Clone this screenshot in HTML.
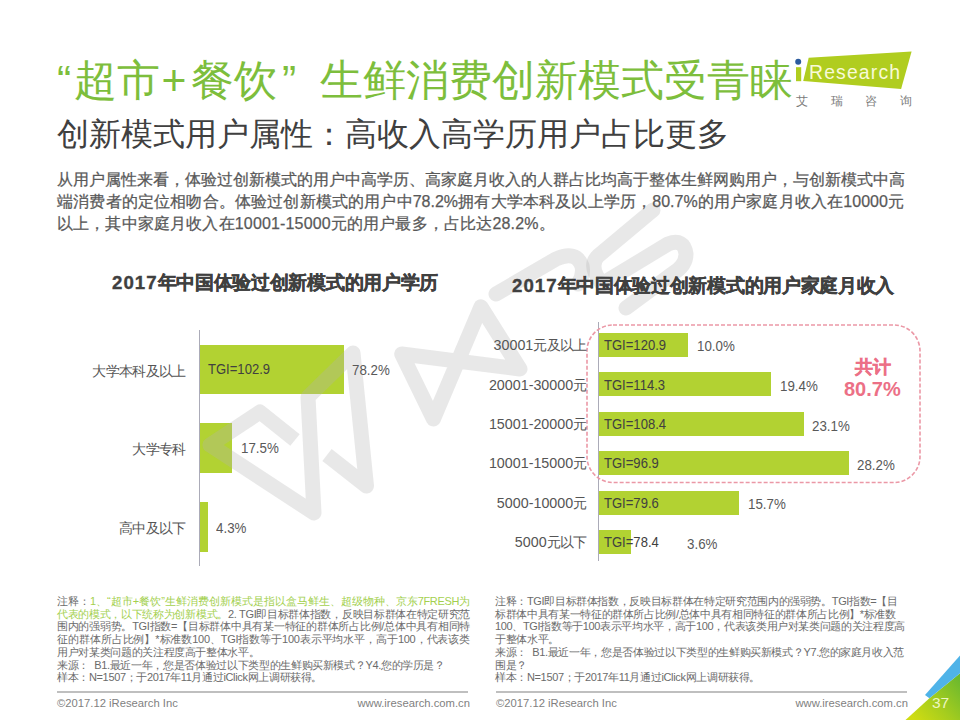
<!DOCTYPE html>
<html><head><meta charset="utf-8">
<style>
html,body{margin:0;padding:0;}
body{width:960px;height:720px;position:relative;overflow:hidden;background:#fff;font-family:"Liberation Sans",sans-serif;color:#595959;}
.a{position:absolute;white-space:nowrap;z-index:2;}
.t1{top:52px;font-size:42.67px;line-height:56px;color:#7dbe3c;}
#sub{left:57px;top:114px;font-size:32px;line-height:40px;color:#404040;}
.para{left:57px;width:847px;font-size:16px;line-height:22px;margin-top:1.5px;color:#595959;-webkit-text-stroke:0.25px #595959;text-align:justify;text-align-last:justify;}
.ct{font-size:18.67px;font-weight:bold;color:#404040;line-height:26px;letter-spacing:-0.3px;-webkit-text-stroke:0.35px #404040;}
.d{letter-spacing:1.0px;}
.dg{font-size:14.3px;letter-spacing:0;}
.bar{position:absolute;background:#b2d232;}
.axis{position:absolute;background:#ababb8;width:1px;}
.lab{position:absolute;z-index:2;font-size:14px;letter-spacing:-0.7px;line-height:16px;color:#555;text-align:right;white-space:nowrap;}
.tgi{position:absolute;z-index:2;font-size:14.5px;line-height:16px;color:#404040;transform:scaleX(0.9);transform-origin:0 0;white-space:nowrap;}
.pct{position:absolute;z-index:2;font-size:14.5px;line-height:16px;color:#595959;transform:scaleX(0.92);transform-origin:0 0;white-space:nowrap;}
.note{font-size:11px;letter-spacing:-0.35px;line-height:12.6px;color:#6b6b6b;}
.j{width:413px;text-align:justify;text-align-last:justify;}
.g{color:#a3d04e;}
.foot{font-size:11.25px;line-height:14px;color:#7f7f7f;}
.sep{position:absolute;height:2px;background:#bfbfbf;top:691px;}
</style></head><body>

<div class="a t1" style="left:57px">“</div><div class="a t1" style="left:74px">超市</div><div class="a t1" style="left:161.5px">+</div><div class="a t1" style="left:190.5px">餐饮</div><div class="a t1" style="left:282px">”</div><div class="a t1" style="left:320px;font-size:42.6px">生鲜消费创新模式受青睐</div>
<div class="a" id="sub">创新模式用户属性：高收入高学历用户占比更多</div>

<div class="a para" style="top:167px">从用户属性来看，体验过创新模式的用户中高学历、高家庭月收入的人群占比均高于整体生鲜网购用户，与创新模式中高</div>
<div class="a para" style="top:189px">端消费者的定位相吻合。体验过创新模式的用户中78.2%拥有大学本科及以上学历，80.7%的用户家庭月收入在10000元</div>
<div class="a para" style="top:211px;text-align-last:left;letter-spacing:0.16px">以上，其中家庭月收入在10001-15000元的用户最多，占比达28.2%。</div>

<div class="a ct" style="left:112px;top:270px"><span class="d">2017</span>年中国体验过创新模式的用户学历</div>
<div class="a ct" style="left:512px;top:273px"><span class="d">2017</span>年中国体验过创新模式的用户家庭月收入</div>

<!-- left chart -->
<div class="axis" style="left:199px;top:330px;height:236px"></div>
<div class="bar" style="left:200px;top:345px;width:144px;height:49px"></div>
<div class="bar" style="left:200px;top:423px;width:32px;height:50px"></div>
<div class="bar" style="left:200px;top:502px;width:8px;height:50px"></div>
<div class="lab" style="right:774.5px;top:362.5px">大学本科及以上</div>
<div class="lab" style="right:774.5px;top:440.5px">大学专科</div>
<div class="lab" style="right:774.5px;top:519.5px">高中及以下</div>
<div class="tgi" style="left:208px;top:361px">TGI=102.9</div>
<div class="pct" style="left:352px;top:362px">78.2%</div>
<div class="pct" style="left:241px;top:440px">17.5%</div>
<div class="pct" style="left:216px;top:520px">4.3%</div>

<!-- right chart -->
<div class="axis" style="left:598px;top:322px;height:239px"></div>
<div class="bar" style="left:599px;top:333px;width:89px;height:24px"></div>
<div class="bar" style="left:599px;top:372px;width:172px;height:24px"></div>
<div class="bar" style="left:599px;top:412px;width:205px;height:24px"></div>
<div class="bar" style="left:599px;top:451px;width:250px;height:24px"></div>
<div class="bar" style="left:599px;top:491px;width:140px;height:24px"></div>
<div class="bar" style="left:599px;top:530px;width:32px;height:24px"></div>
<div class="lab" style="right:373.5px;top:337px"><span class="dg">30001</span>元及以上</div>
<div class="lab" style="right:373.5px;top:377px"><span class="dg">20001-30000</span>元</div>
<div class="lab" style="right:373.5px;top:416px"><span class="dg">15001-20000</span>元</div>
<div class="lab" style="right:373.5px;top:455px"><span class="dg">10001-15000</span>元</div>
<div class="lab" style="right:373.5px;top:495px"><span class="dg">5000-10000</span>元</div>
<div class="lab" style="right:373.5px;top:534px"><span class="dg">5000</span>元以下</div>
<div class="tgi" style="left:604px;top:337px">TGI=120.9</div>
<div class="tgi" style="left:604px;top:377px">TGI=114.3</div>
<div class="tgi" style="left:604px;top:416px">TGI=108.4</div>
<div class="tgi" style="left:604px;top:455px">TGI=96.9</div>
<div class="tgi" style="left:604px;top:495px">TGI=79.6</div>
<div class="tgi" style="left:604px;top:534px">TGI=78.4</div>
<div class="pct" style="left:697px;top:338px">10.0%</div>
<div class="pct" style="left:780px;top:378px">19.4%</div>
<div class="pct" style="left:812px;top:418px">23.1%</div>
<div class="pct" style="left:857px;top:457px">28.2%</div>
<div class="pct" style="left:748px;top:496px">15.7%</div>
<div class="pct" style="left:687px;top:536px">3.6%</div>
<svg style="position:absolute;left:0;top:0" width="960" height="720"><rect x="587" y="325" width="333" height="157.5" rx="26" ry="26" fill="none" stroke="#eb98a6" stroke-width="1.6" stroke-dasharray="4 2"/></svg>
<div class="a" style="left:855px;top:355.5px;font-size:18px;line-height:22px;font-weight:bold;color:#ec7086;-webkit-text-stroke:0.4px #ec7086">共计</div>
<div class="a" style="left:844px;top:377px;font-size:20px;line-height:24px;font-weight:bold;color:#ec7086">80.7%</div>

<!-- notes -->
<div class="a note j" style="left:57px;top:595px">注释：<span class="g">1、“超市+餐饮”生鲜消费创新模式是指以盒马鲜生、超级物种、京东7FRESH为</span></div>
<div class="a note j" style="left:57px;top:607.7px"><span class="g">代表的模式，以下统称为创新模式。</span>2. TGI即目标群体指数，反映目标群体在特定研究范</div>
<div class="a note j" style="left:57px;top:620.4px">围内的强弱势。TGI指数=【目标群体中具有某一特征的群体所占比例/总体中具有相同特</div>
<div class="a note j" style="left:57px;top:633.1px">征的群体所占比例】*标准数100、TGI指数等于100表示平均水平，高于100，代表该类</div>
<div class="a note" style="left:57px;top:645.8px">用户对某类问题的关注程度高于整体水平。</div>
<div class="a note" style="left:57px;top:658.5px">来源：&nbsp;&nbsp;B1.最近一年，您是否体验过以下类型的生鲜购买新模式？Y4.您的学历是？</div>
<div class="a note" style="left:57px;top:671.2px">样本：N=1507；于2017年11月通过iClick网上调研获得。</div>
<div class="a note" style="left:495px;top:595px">注释：TGI即目标群体指数，反映目标群体在特定研究范围内的强弱势。TGI指数=【目</div>
<div class="a note" style="left:495px;top:607.7px">标群体中具有某一特征的群体所占比例/总体中具有相同特征的群体所占比例】*标准数</div>
<div class="a note" style="left:495px;top:620.4px">100、TGI指数等于100表示平均水平，高于100，代表该类用户对某类问题的关注程度高</div>
<div class="a note" style="left:495px;top:633.1px">于整体水平。</div>
<div class="a note" style="left:495px;top:645.8px">来源：&nbsp;&nbsp;B1.最近一年，您是否体验过以下类型的生鲜购买新模式？Y7.您的家庭月收入范</div>
<div class="a note" style="left:495px;top:658.5px">围是？</div>
<div class="a note" style="left:495px;top:671.2px">样本：N=1507；于2017年11月通过iClick网上调研获得。</div>

<div class="sep" style="left:57px;width:411px"></div>
<div class="sep" style="left:496px;width:411px"></div>
<div class="a foot" style="left:57px;top:696px">©2017.12 iResearch Inc</div>
<div class="a foot" style="right:490px;top:696px">www.iresearch.com.cn</div>
<div class="a foot" style="left:496px;top:696px">©2017.12 iResearch Inc</div>
<div class="a foot" style="right:52px;top:696px">www.iresearch.com.cn</div>



<!-- watermark -->
<svg style="position:absolute;left:0;top:0;z-index:1" width="960" height="720" fill="none" stroke="rgba(180,180,180,0.3)" stroke-width="15" stroke-linejoin="round" stroke-linecap="butt">
<polyline points="295,440 260,412 210,445 314,513 308,397 353,353 366.5,486 327,455"/>
<polygon points="401.7,354 433.4,419 480.9,306.8 520,369" stroke-width="15"/>
<path d="M496,294 L556,259 Q576,250 582,266 Q584,276 578,284" stroke-width="15" stroke-linecap="round"/>
<path d="M653,210 L598,256 Q588,266 602,284 L668,244 Q684,238 686,254 Q686,266 672,274 L626,308" stroke-width="15" stroke-linecap="round"/>
</svg>

<!-- logo -->
<svg style="position:absolute;left:0;top:0" width="960" height="720">
<polygon points="808.7,57.8 911.6,51.5 901.1,89 803.2,81.1" fill="#b0cd1f"/>
<rect x="796" y="67.2" width="5.2" height="14" fill="#b0cd1f"/>
<circle cx="798.2" cy="61.7" r="3" fill="#2b5b9e"/>
</svg>
<div class="a" style="left:809px;top:60px;font-size:19.4px;line-height:24px;color:#f8fad8;letter-spacing:1.15px">Research</div>
<div class="a" style="left:796px;top:94px;font-size:12px;line-height:14px;color:#7a7a7a;letter-spacing:22.7px">艾瑞咨询</div>

<!-- corner -->
<svg style="position:absolute;left:0;top:0" width="960" height="720">
<defs><linearGradient id="cg" x1="960" y1="680" x2="915" y2="720" gradientUnits="userSpaceOnUse"><stop offset="0" stop-color="#6cb92e"/><stop offset="0.55" stop-color="#a6cd1e"/><stop offset="1" stop-color="#cfdc12"/></linearGradient></defs>
<polygon points="905.5,720 929.4,698.3 960,673.3 960,720" fill="url(#cg)"/>
<polygon points="925,695 960,655.6 960,673.3 929.4,698.3" fill="#4fb3e8"/>
</svg>
<div class="a" style="left:932px;top:694px;font-size:15.5px;line-height:18px;color:#eef6c0">37</div>

</body></html>
